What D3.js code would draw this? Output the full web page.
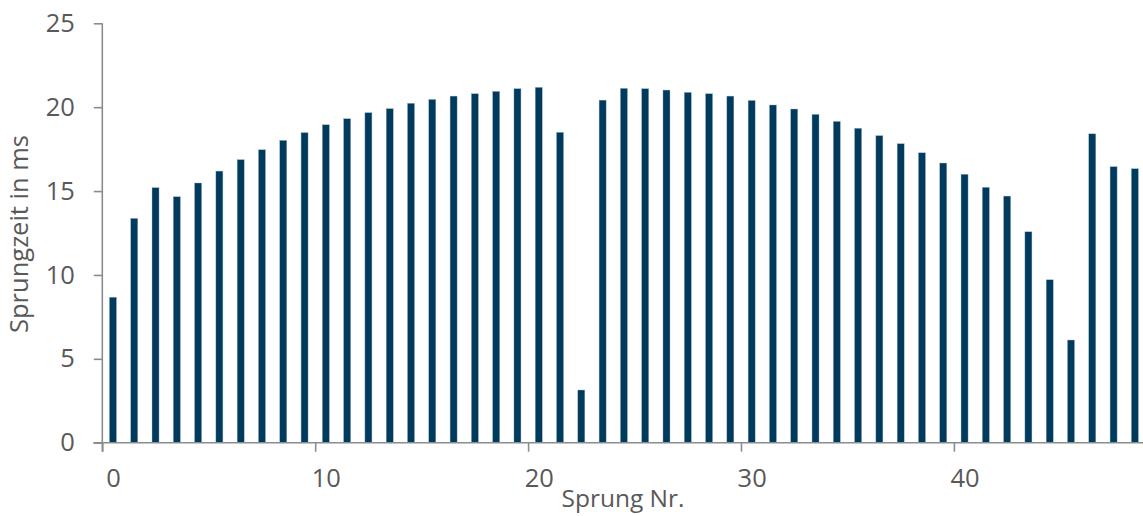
<!DOCTYPE html>
<html>
<head>
<meta charset="utf-8">
<script src="https://cdn.jsdelivr.net/npm/d3@7"></script>
<style>
  html, body { margin: 0; padding: 0; background: #fff; }
  svg { display: block; }
  text { font-family: "Open Sans", sans-serif; fill: #595959; }
</style>
</head>
<body>
<script>
// Data
const jumpNumbers = d3.range(0, 49);
const jumpTimes = [
  8.67, 13.37, 15.20, 14.66, 15.48, 16.19, 16.87, 17.46, 18.02, 18.48,
  18.95, 19.31, 19.67, 19.91, 20.23, 20.46, 20.66, 20.80, 20.94, 21.10,
  21.18, 18.50, 3.14, 20.42, 21.12, 21.10, 21.02, 20.88, 20.80, 20.66,
  20.40, 20.13, 19.89, 19.57, 19.15, 18.74, 18.30, 17.82, 17.28, 16.67,
  16.00, 15.22, 14.70, 12.57, 9.71, 6.12, 18.41, 16.45, 16.33
];
const xTicks = [0, 10, 20, 30, 40];
const yTicks = [0, 5, 10, 15, 20, 25];
const xTitle = "Sprung Nr.";
const yTitle = "Sprungzeit in ms";

const W = 1143, H = 516;
const svg = d3.select("body").append("svg").attr("width", W).attr("height", H);

const x0 = 102.3, unit = 21.29;
const x = d3.scaleLinear().domain([0, 49]).range([x0, x0 + 49 * unit]);
const y = d3.scaleLinear().domain([0, 25]).range([442.7, 23.3]);

const axisColor = "#8c8c8c";
const textColor = "#595959";

// Bars
const barW = 7;
svg.append("g").selectAll("rect").data(jumpNumbers).join("rect")
  .attr("x", d => x(d + 0.5) - barW / 2)
  .attr("y", d => y(jumpTimes[d]))
  .attr("width", barW)
  .attr("height", d => y(0) - y(jumpTimes[d]))
  .attr("fill", "#003a5c")
  .attr("stroke", "#8fadc2")
  .attr("stroke-width", 0.4);

// Y axis
const yAxis = d3.axisLeft(y).tickValues(yTicks).tickSize(8.5).tickPadding(19);
const gy = svg.append("g").attr("transform", `translate(${x0},0)`).call(yAxis);
gy.select(".domain").remove();
gy.append("line").attr("x1", 0).attr("x2", 0).attr("y1", y(25)).attr("y2", y(0) + 9)
  .attr("stroke", axisColor).attr("stroke-width", 1.6);
gy.selectAll(".tick line").attr("stroke", axisColor).attr("stroke-width", 1.6);
gy.selectAll(".tick text").attr("font-size", 25.5).attr("fill", textColor)
  .attr("font-family", "Open Sans, sans-serif");

// X axis
const xAxis = d3.axisBottom(x).tickValues(xTicks).tickSize(9).tickPadding(17);
const gx = svg.append("g").attr("transform", `translate(0,${y(0)})`).call(xAxis);
gx.select(".domain").remove();
gx.append("line").attr("x1", x0 - 9).attr("x2", W + 5).attr("y1", 0).attr("y2", 0)
  .attr("stroke", axisColor).attr("stroke-width", 1.6);
gx.selectAll(".tick line").attr("stroke", axisColor).attr("stroke-width", 1.6);
const halfUnit = x(0.5) - x(0);
gx.selectAll(".tick text").attr("font-size", 25.5).attr("fill", textColor)
  .attr("font-family", "Open Sans, sans-serif")
  .attr("x", halfUnit);

// Titles
svg.append("text").attr("x", 623).attr("y", 507)
  .attr("text-anchor", "middle").attr("font-size", 24.5).text(xTitle);
svg.append("text").attr("transform", "translate(28,234) rotate(-90)")
  .attr("text-anchor", "middle").attr("font-size", 25.5).text(yTitle);
</script>
</body>
</html>
